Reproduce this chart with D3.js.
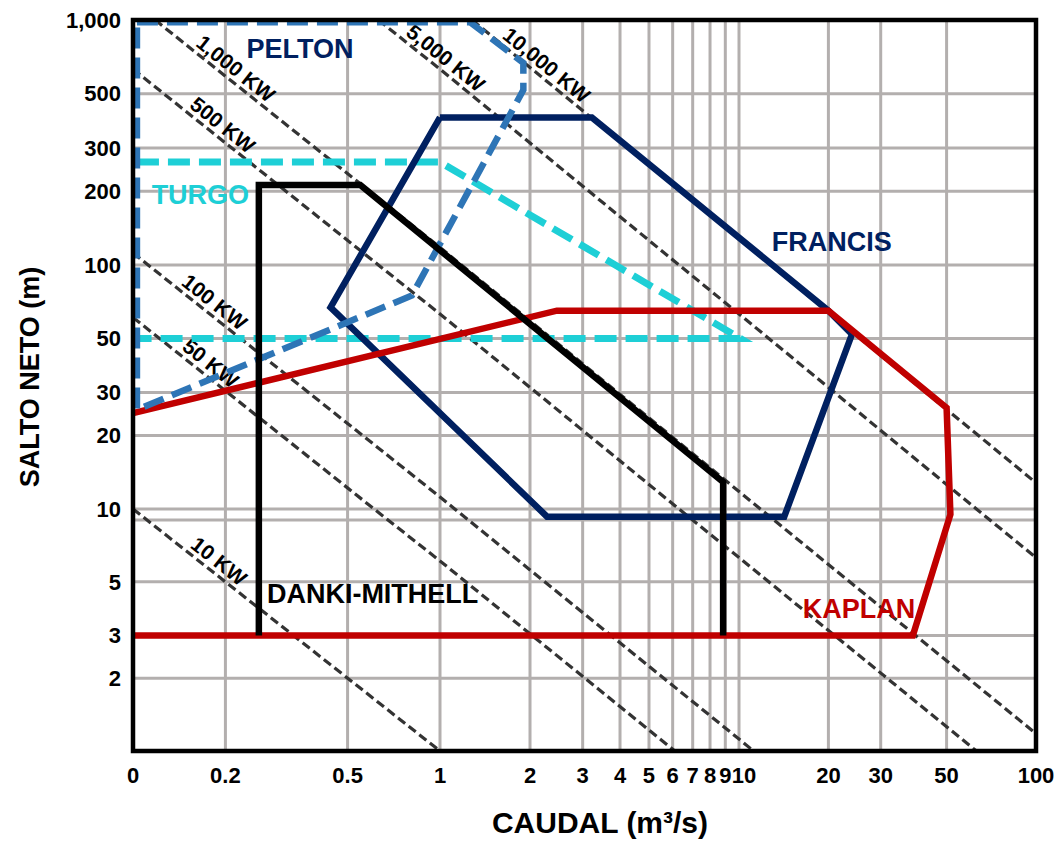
<!DOCTYPE html>
<html>
<head>
<meta charset="utf-8">
<script src="https://cdn.jsdelivr.net/npm/d3@7"></script>
<style>
  body { margin: 0; background: #fff; }
  text { font-family: "Liberation Sans", Arial, sans-serif; font-weight: bold; }
</style>
</head>
<body>
<div class="chart"></div>
<script>

// axes
var xTicks = [0.1, 0.2, 0.5, 1, 2, 3, 4, 5, 6, 7, 8, 9, 10, 20, 30, 50, 100];
var xTickLabels = ["0", "0.2", "0.5", "1", "2", "3", "4", "5", "6", "7", "8", "9", "10", "20", "30", "50", "100"];
var yTicks = [2, 3, 5, 10, 20, 30, 50, 100, 200, 300, 500, 1000];
var yTickLabels = ["2", "3", "5", "10", "20", "30", "50", "100", "200", "300", "500", "1,000"];
var yGrid = [2, 3, 5, 9, 10, 20, 30, 50, 100, 200, 300, 500];

// power lines: caudal * salto = constant
var powerNames = ["10 KW", "50 KW", "100 KW", "500 KW", "1,000 KW", "5,000 KW", "10,000 KW"];
var powerQH = [1.0, 6.1, 11.2, 63, 118, 630, 1280];
var powerLabelQ = [0.18, 0.169, 0.174, 0.185, 0.204, 0.985, 2.14];

// turbine regions (caudal m3/s, salto m)
var peltonQ = [0.103, 1.26, 1.9, 1.9, 0.81, 0.103, 0.103];
var peltonH = [980, 980, 668, 518, 75, 25.5, 980];

var turgoQ = [0.103, 1.0, 10.1, 0.103];
var turgoH = [263, 263, 50, 50];

var francisQ = [1.0, 3.22, 20, 24, 14.2, 2.28, 0.44, 1.0];
var francisH = [400, 400, 65, 52, 9.3, 9.3, 67, 400];

var kaplanQ = [0.1, 2.46, 20, 50, 51.5, 38.5, 0.1];
var kaplanH = [24.7, 65, 65, 26, 9.5, 3, 3];

var dankiQ = [0.257, 0.257, 0.55, 8.85, 8.85];
var dankiH = [3, 212, 212, 12.9, 3];

// region labels
var regionNames = ["PELTON", "TURGO", "FRANCIS", "KAPLAN", "DANKI-MITHELL"];
var regionLabelQ = [0.35, 0.115, 12.9, 16.4, 0.273];
var regionLabelH = [700, 177, 114, 3.55, 4.09];
var regionAnchor = ["middle", "start", "start", "start", "start"];
var regionColors = ["#002060", "#1ECFD6", "#002060", "#C00000", "#000000"];

var L = 133, T = 20, R = 1036, B = 751;

var x = d3.scaleLog()
  .domain([0.1, 1, 10, 100])
  .range([L, 440, 739, R]);

var y = d3.scaleLog()
  .domain([1, 10, 100, 1000])
  .range([B, 509, 265, T]);

var svg = d3.select(".chart").append("svg")
  .attr("width", 1062)
  .attr("height", 841)
  .style("background", "#fff");

svg.append("clipPath").attr("id", "plot")
  .append("rect")
    .attr("x", L).attr("y", T)
    .attr("width", R - L).attr("height", B - T);

// grid
svg.append("g")
  .selectAll("line")
    .data(xTicks)
  .enter().append("line")
    .attr("x1", function(d) { return x(d); })
    .attr("x2", function(d) { return x(d); })
    .attr("y1", T)
    .attr("y2", B)
    .attr("stroke", "#B3AFAE")
    .attr("stroke-width", 3);

svg.append("g")
  .selectAll("line")
    .data(yGrid)
  .enter().append("line")
    .attr("x1", L)
    .attr("x2", R)
    .attr("y1", function(d) { return y(d); })
    .attr("y2", function(d) { return y(d); })
    .attr("stroke", "#B3AFAE")
    .attr("stroke-width", 3);

var line = d3.line()
  .x(function(d) { return x(d[0]); })
  .y(function(d) { return y(d[1]); });

function powerPoints(k) {
  var lo = Math.max(0.1, k / 1000), hi = Math.min(100, k);
  var qs = [lo, hi];
  [1, 10, k / 10, k / 100].forEach(function(q) {
    if (q > lo && q < hi) qs.push(q);
  });
  qs.sort(d3.ascending);
  return qs.map(function(q) { return [q, k / q]; });
}

// power lines
var power = svg.append("g").attr("clip-path", "url(#plot)");

power.selectAll("path")
    .data(powerQH)
  .enter().append("path")
    .attr("d", function(d) { return line(powerPoints(d)); })
    .attr("fill", "none")
    .attr("stroke", "#333")
    .attr("stroke-width", 3.2)
    .attr("stroke-dasharray", "9,4.5");

svg.append("g")
  .selectAll("text")
    .data(powerNames)
  .enter().append("text")
    .attr("transform", function(d, i) {
      var k = powerQH[i], q = powerLabelQ[i];
      var x1 = x(q / 1.05), y1 = y(k * 1.05 / q);
      var x2 = x(q * 1.05), y2 = y(k / (q * 1.05));
      var a = Math.atan2(y2 - y1, x2 - x1) * 180 / Math.PI;
      return "translate(" + x(q) + "," + y(k / q) + ") rotate(" + a + ")";
    })
    .attr("dy", -5)
    .attr("text-anchor", "middle")
    .attr("font-size", 21)
    .attr("fill", "#000")
    .text(function(d) { return d; });

function zip(qs, hs) {
  return qs.map(function(q, i) { return [q, hs[i]]; });
}

function region(qs, hs, color, width, dash) {
  svg.append("path")
    .attr("d", line(zip(qs, hs)))
    .attr("fill", "none")
    .attr("stroke", color)
    .attr("stroke-width", width)
    .attr("stroke-dasharray", dash);
}

region(turgoQ, turgoH, "#1ECFD6", 7, "22,9");
region(francisQ, francisH, "#002060", 6.5, null);
region(kaplanQ, kaplanH, "#C00000", 6.5, null);
region(peltonQ, peltonH, "#2E75B6", 6.5, "21,9");
region(dankiQ, dankiH, "#000000", 6.5, null);

svg.append("g")
  .selectAll("text")
    .data(regionNames)
  .enter().append("text")
    .attr("x", function(d, i) { return x(regionLabelQ[i]); })
    .attr("y", function(d, i) { return y(regionLabelH[i]); })
    .attr("text-anchor", function(d, i) { return regionAnchor[i]; })
    .attr("font-size", 27)
    .attr("fill", function(d, i) { return regionColors[i]; })
    .text(function(d) { return d; });

// frame
svg.append("rect")
  .attr("x", L).attr("y", T)
  .attr("width", R - L).attr("height", B - T)
  .attr("fill", "none")
  .attr("stroke", "#000")
  .attr("stroke-width", 4.5);

// tick labels
svg.append("g")
  .selectAll("text")
    .data(xTicks)
  .enter().append("text")
    .attr("x", function(d) { return x(d); })
    .attr("y", B + 24)
    .attr("dx", function(d) { return d === 10 ? 5 : 0; })
    .attr("dy", "0.35em")
    .attr("text-anchor", "middle")
    .attr("font-size", 22)
    .text(function(d, i) { return xTickLabels[i]; });

svg.append("g")
  .selectAll("text")
    .data(yTicks)
  .enter().append("text")
    .attr("x", L - 12)
    .attr("y", function(d) { return y(d); })
    .attr("dy", "0.35em")
    .attr("text-anchor", "end")
    .attr("font-size", 22)
    .text(function(d, i) { return yTickLabels[i]; });

// axis titles
svg.append("text")
  .attr("x", 600)
  .attr("y", 833)
  .attr("text-anchor", "middle")
  .attr("font-size", 30)
  .text("CAUDAL (m³/s)");

svg.append("text")
  .attr("transform", "translate(30,377) rotate(-90)")
  .attr("dy", "0.35em")
  .attr("text-anchor", "middle")
  .attr("font-size", 27)
  .text("SALTO NETO (m)");

</script>
</body>
</html>
